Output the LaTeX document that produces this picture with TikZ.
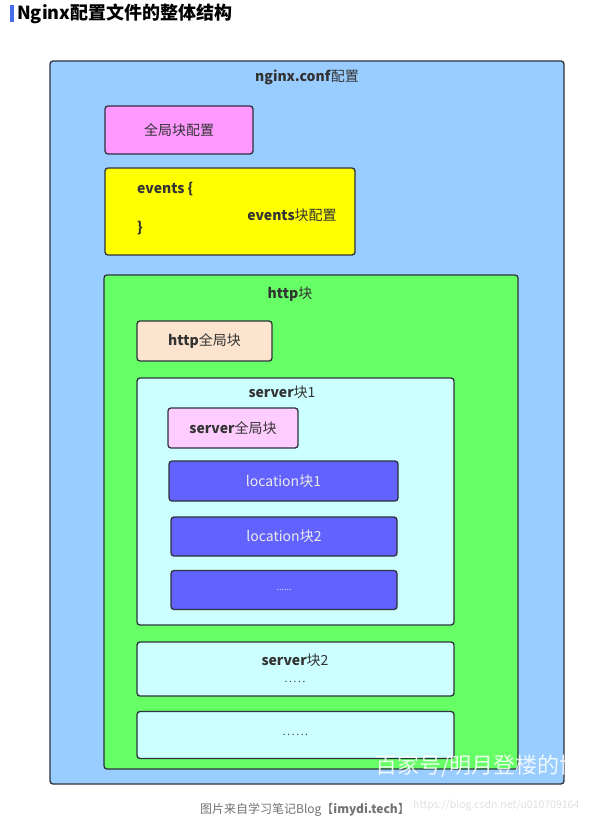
\documentclass[tikz,border=0pt]{standalone}
\usepackage{xcolor}
\usepackage{fontspec}
\setmainfont{Noto Sans CJK SC}
\usepackage{tikz}

\definecolor{tituloazul}{RGB}{70,110,235}
\definecolor{confazul}{RGB}{153,204,255}
\definecolor{rosa}{RGB}{255,153,255}
\definecolor{amarillo}{RGB}{255,255,0}
\definecolor{verde}{RGB}{102,255,102}
\definecolor{durazno}{RGB}{252,228,206}
\definecolor{celeste}{RGB}{204,255,255}
\definecolor{rosaclaro}{RGB}{255,204,255}
\definecolor{lila}{RGB}{98,98,255}
\definecolor{borde}{RGB}{45,50,60}

\begin{document}
\begin{tikzpicture}[x=1pt,y=-1pt,
    caja/.style={draw=borde, line width=1.3pt, rounded corners=3pt},
    bloque/.style={caja, inner sep=0pt, text=black!80,
      font=\fontsize{14}{16}\selectfont},
    etiqueta/.style={inner sep=0pt, text=black!80,
      font=\fontsize{14}{16}\selectfont}]
    \useasboundingbox (0,0) rectangle (597,824);
    \fill[white] (0,0) rectangle (597,824);

    % titulo
    \fill[tituloazul] (10,5) rectangle (13.5,22);
    \node[anchor=west, inner sep=0pt, font=\fontsize{18}{20}\selectfont\bfseries]
      (titulo) at (17,13.5) {Nginx配置文件的整体结构};

    % nginx.conf
    \draw[caja, fill=confazul] (50,61) rectangle (564,784);
    \node[etiqueta] (conf) at (307,77) {\textbf{nginx.conf}配置};

    \node[bloque, fill=rosa, minimum width=148, minimum height=48]
      (global) at (179,130) {全局块配置};

    % events
    \draw[caja, fill=amarillo] (105,168) rectangle (355,255);
    \node[etiqueta, anchor=west] (evabre) at (137,189) {\textbf{events \{}};
    \node[etiqueta, anchor=west] (evcierra) at (137,228) {\textbf{\}}};
    \node[etiqueta] (events) at (292,215) {\textbf{events}块配置};

    % http
    \draw[caja, fill=verde] (104,275) rectangle (518,769);
    \node[etiqueta] (http) at (290,294) {\textbf{http}块};
    \node[bloque, fill=durazno, minimum width=135, minimum height=40]
      (httpglobal) at (204.5,341) {\textbf{http}全局块};

    % server 1
    \draw[caja, fill=celeste] (137,378) rectangle (454,625);
    \node[etiqueta] (server1) at (282,392) {\textbf{server}块1};
    \node[bloque, fill=rosaclaro, minimum width=130, minimum height=40]
      (serverglobal) at (233,428) {\textbf{server}全局块};
    \node[bloque, fill=lila, text=white!92!black, minimum width=229, minimum height=40]
      (loc1) at (283.5,481) {location块1};
    \node[bloque, fill=lila, text=white!92!black, minimum width=226, minimum height=39]
      (loc2) at (284,536.5) {location块2};
    \node[bloque, fill=lila, text=white!80!lila, minimum width=226, minimum height=39,
      font=\fontsize{9}{10}\selectfont] (locmas) at (284,590) {......};

    % server 2
    \draw[caja, fill=celeste] (137,642) rectangle (454,696);
    \node[etiqueta] (server2) at (295,660) {\textbf{server}块2};
    \node[etiqueta, font=\fontsize{10}{11}\selectfont] (server2mas) at (295,682)
      {.\,.\,.\,.\,.};

    \node[bloque, fill=celeste, minimum width=317, minimum height=47,
      font=\fontsize{10}{11}\selectfont] (servermas) at (295.5,735)
      {.\,.\,.\,.\,.\,.};

    % marcas de agua
    \begin{scope}
    \clip (50,61) rectangle (564,786);
    \node[anchor=west, inner sep=0pt, text=white, opacity=0.85,
      font=\fontsize{22}{24}\selectfont] (marca) at (375,766) {百家号/明月登楼的博};
    \end{scope}
    \node[anchor=west, inner sep=0pt, text=black!12,
      font=\fontsize{10.5}{12}\selectfont] (csdn) at (413,806) {https://blog.csdn.net/u010709164};
    \node[inner sep=0pt, text=black!55, font=\fontsize{12}{14}\selectfont]
      (pie) at (305,810) {图片来自学习笔记Blog【\textbf{imydi.tech}】};
\end{tikzpicture}
\end{document}
